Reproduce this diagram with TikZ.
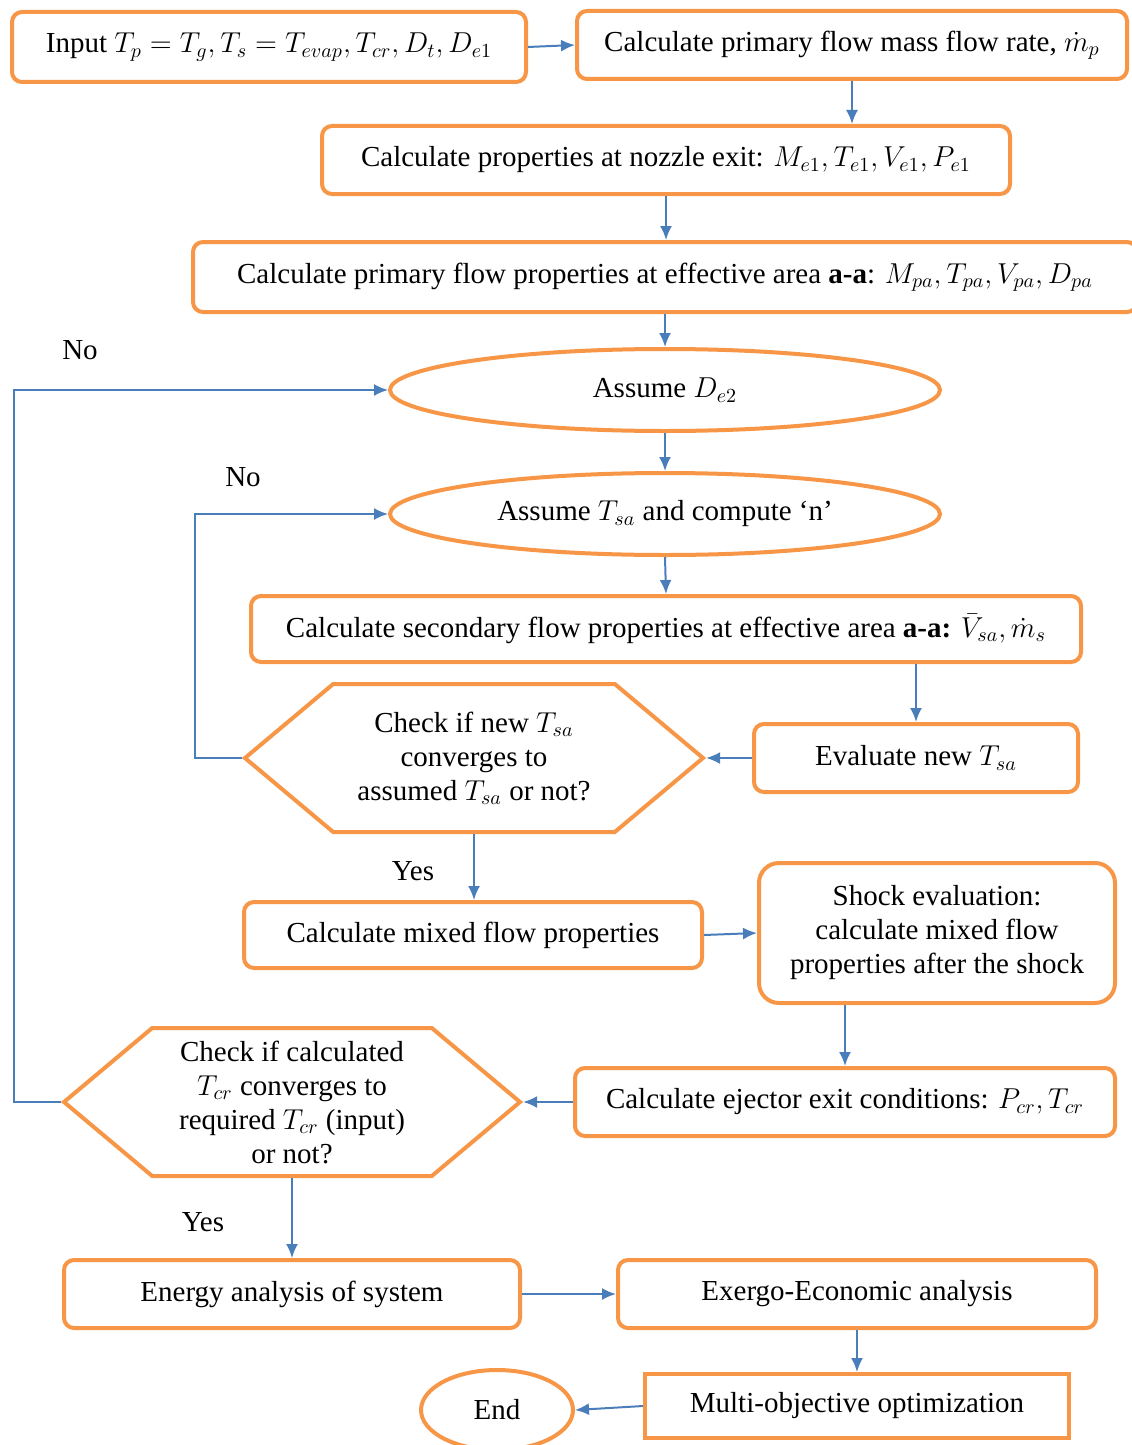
\documentclass[tikz,border=0pt]{standalone}
\usepackage{fontspec}
\setmainfont{Liberation Serif}
\usetikzlibrary{shapes.geometric,shapes.symbols,arrows.meta}
\definecolor{boxorange}{HTML}{F79646}
\definecolor{arrowblue}{HTML}{4A7EBB}

\begin{document}
\begin{tikzpicture}[x=0.5pt, y=-0.5pt, font=\fontsize{14.5}{17}\selectfont]
\tikzstyle{box}=[rectangle, rounded corners=5pt, draw=boxorange, line width=2pt, fill=white, align=center, inner sep=2pt]
\tikzstyle{sharpbox}=[rectangle, draw=boxorange, line width=2pt, fill=white, inner sep=2pt]
\tikzstyle{oval}=[ellipse, draw=boxorange, line width=2pt, fill=white, inner sep=1pt]
\tikzstyle{check}=[signal, signal to=west and east, signal pointer angle=80, draw=boxorange, line width=2pt, fill=white, align=center, inner sep=1pt]
\tikzstyle{connect}=[-{Latex[length=7pt, width=6pt]}, draw=arrowblue, line width=1pt]
\tikzstyle{lbl}=[inner sep=0pt]

% 1. Canvas
%%%%%%%%%%
\useasboundingbox (0,0) rectangle (1131,1445);

% 2. Nodes
%%%%%%%%%%
\node[box, minimum width=257pt, minimum height=35pt] (input) at (269,47)
  {Input $T_p = T_g, T_s = T_{evap}, T_{cr}, D_t, D_{e1}$};
\node[box, minimum width=275pt, minimum height=34pt] (massrate) at (852,45)
  {Calculate primary flow mass flow rate, $\dot{m}_p$};
\node[box, minimum width=344pt, minimum height=34pt] (nozzle) at (666,160)
  {Calculate properties at nozzle exit: $M_{e1}, T_{e1}, V_{e1}, P_{e1}$};
\node[box, minimum width=472pt, minimum height=35pt] (primary) at (665,277)
  {Calculate primary flow properties at effective area \textbf{a-a}: $M_{pa}, T_{pa}, V_{pa}, D_{pa}$};
\node[oval, minimum width=275pt, minimum height=41pt] (assumeD) at (665,390)
  {Assume $D_{e2}$};
\node[oval, minimum width=275pt, minimum height=41pt] (assumeT) at (665,514)
  {Assume $T_{sa}$ and compute ‘n’};
\node[box, minimum width=415pt, minimum height=33pt] (secondary) at (666,629)
  {Calculate secondary flow properties at effective area \textbf{a-a:} $\bar{V}_{sa}, \dot{m}_s$};
\node[check, minimum width=229pt, minimum height=74pt] (checkT) at (474,758)
  {Check if new $T_{sa}$\\converges to\\assumed $T_{sa}$ or not?};
\node[box, minimum width=162pt, minimum height=34pt] (evaluate) at (916,758)
  {Evaluate new $T_{sa}$};
\node[box, minimum width=229pt, minimum height=33pt] (mixed) at (473,935)
  {Calculate mixed flow properties};
\node[box, rounded corners=10pt, minimum width=178pt, minimum height=70pt] (shock) at (937,933)
  {Shock evaluation:\\calculate mixed flow\\properties after the shock};
\node[box, minimum width=270pt, minimum height=34pt] (ejector) at (845,1102)
  {Calculate ejector exit conditions: $P_{cr}, T_{cr}$};
\node[check, minimum width=228pt, minimum height=74pt] (checkP) at (292,1102)
  {Check if calculated\\$T_{cr}$ converges to\\required $T_{cr}$ (input)\\or not?};
\node[box, minimum width=228pt, minimum height=34pt] (energy) at (292,1294)
  {Energy analysis of system};
\node[box, minimum width=239pt, minimum height=34pt] (exergo) at (857,1294)
  {Exergo-Economic analysis};
\node[sharpbox, minimum width=212pt, minimum height=32pt] (multi) at (857,1406)
  {Multi-objective optimization};
\node[oval, minimum width=76pt, minimum height=40pt] (theend) at (497,1410)
  {End};

% 3. Labels
%%%%%%%%%%%
\node[lbl] (noD) at (80,350) {No};
\node[lbl] (noT) at (243,477) {No};
\node[lbl] (yesT) at (413,871) {Yes};
\node[lbl] (yesP) at (203,1222) {Yes};

% 4. Arrows
%%%%%%%%%%%
\path (input.east)      edge [connect] (massrate.west)
      (massrate.south)  edge [connect] (massrate.south |- nozzle.north)
      (nozzle.south)    edge [connect] (nozzle.south |- primary.north)
      (primary.south)   edge [connect] (assumeD.north)
      (assumeD.south)   edge [connect] (assumeT.north)
      (assumeT.south)   edge [connect] (secondary.north)
      (evaluate.north |- secondary.south) edge [connect] (evaluate.north)
      (evaluate.west)   edge [connect] (checkT.east)
      (checkT.south)    edge [connect] (checkT.south |- mixed.north)
      (mixed.east)      edge [connect] (shock.west)
      (ejector.north |- shock.south) edge [connect] (ejector.north)
      (ejector.west)    edge [connect] (checkP.east)
      (checkP.south)    edge [connect] (energy.north)
      (energy.east)     edge [connect] (exergo.west)
      (exergo.south)    edge [connect] (multi.north)
      (multi.west)      edge [connect] (theend.east);

% 5. Loops
%%%%%%%%%%
\draw[connect] (checkT.west) -- ++(-47,0) |- (assumeT.west);
\draw[connect] (checkP.west) -- ++(-47,0) |- (assumeD.west);

\end{tikzpicture}
\end{document}
